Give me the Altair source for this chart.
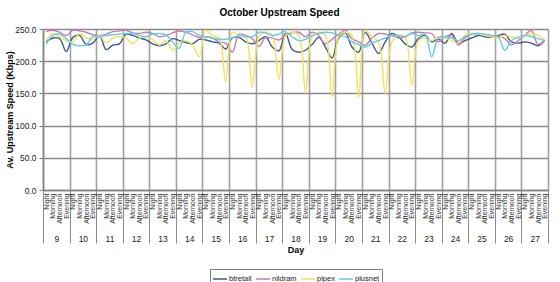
import altair as alt
import pandas as pd

days = list(range(9, 28))
periods = ["Night", "Morning", "Afternoon", "Evening"]
series = ["btretail", "nildram", "pipex", "plusnet"]
colors = ["#3d5a8c", "#c87ab8", "#f2e25a", "#62cde8"]

# values per day: Night, Morning, Afternoon, Evening
btretail = [
    230, 236, 235, 215,  237, 240, 226, 228,  240, 218, 225, 227,
    242, 240, 236, 233,  227, 224, 227, 235,  232, 229, 227, 234,
    233, 230, 228, 219,  236, 237, 230, 227,  232, 238, 222, 216,
    243, 218, 214, 217,  226, 237, 222, 205,  236, 244, 222, 214,
    245, 228, 212, 230,  243, 238, 227, 222,  235, 240, 230, 234,
    228, 243, 228, 232,  236, 240, 238, 237,  240, 242, 230, 228,
    230, 228, 224, 233,
]
nildram = [
    246, 248, 245, 240,  248, 247, 245, 241,  240, 242, 246, 247,
    248, 244, 243, 245,  243, 238, 240, 244,  247, 245, 241, 237,
    238, 236, 230, 228,  214, 242, 240, 235,  223, 237, 236, 233,
    240, 244, 245, 238,  245, 240, 227, 234,  242, 248, 235, 230,
    225, 236, 243, 242,  240, 236, 238, 244,  245, 244, 243, 230,
    238, 240, 225, 236,  242, 243, 240, 238,  239, 235, 225, 232,
    240, 248, 226, 232,
]
pipex = [
    232, 243, 238, 232,  230, 243, 236, 234,  240, 228, 236, 238,
    236, 227, 236, 238,  234, 225, 232, 217,  228, 232, 225, 207,
    248, 240, 236, 168,  245, 240, 238, 160,  238, 245, 240, 172,
    240, 245, 240, 152,  238, 245, 240, 145,  238, 245, 240, 144,
    248, 238, 230, 150,  230, 240, 238, 163,  232, 236, 232, 238,
    236, 232, 228, 240,  243, 242, 240, 238,  236, 240, 238, 236,
    240, 243, 240, 233,
]
plusnet = [
    227, 240, 242, 235,  226, 224, 225, 238,  238, 240, 241, 242,
    243, 243, 240, 238,  242, 243, 241, 230,  220, 245, 246, 240,
    238, 236, 234, 234,  236, 240, 238, 238,  245, 244, 240, 242,
    246, 238, 232, 234,  240, 243, 245, 244,  240, 238, 230, 226,
    222, 228, 232, 236,  240, 240, 238, 243,  240, 242, 207, 236,
    238, 236, 232, 238,  242, 243, 242, 240,  238, 217, 232, 237,
    240, 238, 235, 232,
]

rows = []
for name, vals in zip(series, [btretail, nildram, pipex, plusnet]):
    for k, v in enumerate(vals):
        rows.append({"series": name, "pos": k + 0.5, "speed": v,
                     "day": days[k // 4], "period": periods[k % 4]})
df = pd.DataFrame(rows)

n = len(days) * len(periods)
FONT = "Liberation Sans"
xscale = alt.Scale(domain=[0, n], nice=False, zero=False)

lines = alt.Chart(df).mark_line(interpolate="catmull-rom", strokeWidth=1.4).encode(
    x=alt.X("pos:Q", scale=xscale,
            axis=alt.Axis(values=list(range(0, n + 1, 4)), labels=False, title=None,
                          orient="bottom", tickSize=53, tickColor="#8a8a8a", tickWidth=1,
                          domainColor="#808080", domainWidth=1.5,
                          grid=True, gridColor="#a2a2a2", gridWidth=1.6)),
    y=alt.Y("speed:Q", scale=alt.Scale(domain=[0, 250], nice=False),
            axis=alt.Axis(values=[0, 50, 100, 150, 200, 250], format=".1f",
                          title="Av. Upstream Speed (Kbps)", titleFont=FONT,
                          titleFontSize=9, titleFontWeight="bold", titleColor="#000",
                          titlePadding=0,
                          labelFont=FONT, labelFontSize=8.5, labelColor="#222",
                          labelPadding=3, tickSize=4, tickColor="#808080",
                          domainColor="#808080", domainWidth=1.5,
                          grid=True, gridColor="#8a8a8a", gridWidth=1.6)),
    color=alt.Color("series:N", scale=alt.Scale(domain=series, range=colors),
                    legend=alt.Legend(orient="none", legendX=167, legendY=240,
                                      direction="horizontal", title=None,
                                      symbolType="stroke", symbolSize=200,
                                      symbolStrokeWidth=1.5, gridAlign="none",
                                      labelFont=FONT, labelFontSize=7.5,
                                      labelColor="#222", columnPadding=0,
                                      strokeColor="#808080", padding=2,
                                      labelOffset=1)),
)

period_axis = alt.Chart(df).mark_point(opacity=0).encode(
    x=alt.X("pos:Q", scale=xscale,
            axis=alt.Axis(values=[k + 0.5 for k in range(n)], orient="bottom",
                          labelExpr="['Night','Morning','Afternoon','Evening'][floor(datum.value) % 4]",
                          labelAngle=270, labelFont=FONT, labelFontSize=7,
                          labelColor="#333", labelPadding=3, labelOverlap=False,
                          labelBound=False, labelFlush=False,
                          ticks=False, domain=False, grid=False, title=None)),
)

day_axis = alt.Chart(df).mark_point(opacity=0).encode(
    x=alt.X("pos:Q", scale=xscale,
            axis=alt.Axis(values=[4 * i + 2 for i in range(len(days))], orient="bottom",
                          labelExpr="floor(datum.value / 4) + 9",
                          labelFont=FONT, labelFontSize=8.5, labelColor="#222",
                          labelPadding=44, labelOverlap=False, labelFlush=False,
                          ticks=False, domain=False, grid=False,
                          title="Day", titleFont=FONT, titleFontSize=9,
                          titleFontWeight="bold", titleColor="#000", titlePadding=3)),
)

chart = alt.layer(lines, period_axis, day_axis).resolve_axis(x="independent").properties(
    width=505, height=161,
    title=alt.TitleParams("October Upstream Speed", font=FONT, fontSize=10,
                          fontWeight="bold", color="#000", offset=7, dx=-16,
                          frame="group"),
    autosize=alt.AutoSizeParams(type="none"),
    padding={"left": 43, "top": 29, "right": 12, "bottom": 92},
).configure_view(fill="#c0c0c0", stroke="#9a9a9a", strokeWidth=1.5
).configure(background="#ffffff")

chart.save("out.html", embed_options={"renderer": "svg", "actions": False})
